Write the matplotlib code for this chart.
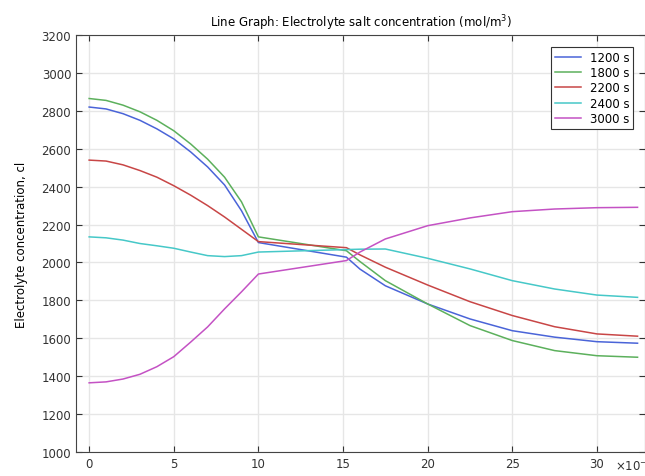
import matplotlib.pyplot as plt

# x positions (x 1e-5)
x_left = [0, 1, 2, 3, 4, 5, 6, 7, 8, 9, 10]
x_right = [10, 15.2, 16, 17.5, 20, 22.5, 25, 27.5, 30, 32.4]

c1200_left = [2820, 2810, 2785, 2750, 2705, 2652, 2583, 2504, 2409, 2273, 2105]
c1200_right = [2105, 2028, 1965, 1877, 1781, 1702, 1640, 1606, 1582, 1574]

c1800_left = [2865, 2855, 2830, 2795, 2750, 2695, 2625, 2545, 2450, 2320, 2135]
c1800_right = [2135, 2062, 2005, 1904, 1781, 1667, 1588, 1535, 1508, 1500]

c2200_left = [2540, 2535, 2515, 2485, 2450, 2405, 2355, 2300, 2240, 2175, 2110]
c2200_right = [2110, 2078, 2040, 1975, 1881, 1793, 1720, 1661, 1623, 1611]

c2400_left = [2135, 2130, 2118, 2100, 2088, 2075, 2055, 2036, 2031, 2036, 2055]
c2400_right = [2055, 2068, 2070, 2071, 2022, 1966, 1904, 1860, 1828, 1816]

c3000_left = [1365, 1370, 1385, 1410, 1450, 1503, 1580, 1660, 1755, 1845, 1939]
c3000_right = [1939, 2010, 2055, 2124, 2194, 2235, 2268, 2282, 2289, 2291]

labels = ['1200 s', '1800 s', '2200 s', '2400 s', '3000 s']
colors = ['#4a64d8', '#5cb05c', '#c84646', '#46c8c8', '#c452c4']

series = [
    (c1200_left, c1200_right),
    (c1800_left, c1800_right),
    (c2200_left, c2200_right),
    (c2400_left, c2400_right),
    (c3000_left, c3000_right),
]

fig = plt.figure(figsize=(6.45, 4.77), dpi=100)
ax = fig.add_axes([0.118, 0.0503, 0.882, 0.8742])

for (yl, yr), lab, col in zip(series, labels, colors):
    ax.plot(x_left + x_right[1:], yl + yr[1:], color=col, lw=1.1, label=lab)

ax.set_xlim(-0.77, 32.84)
ax.set_ylim(1000, 3200)
ax.set_xticks([0, 5, 10, 15, 20, 25, 30])
ax.set_yticks(range(1000, 3201, 200))
ax.grid(True, color='#e6e6e6', lw=1)
ax.set_axisbelow(True)
ax.tick_params(direction='in', top=True, right=True, labelsize=8.5, length=4, colors='#333333')
for s in ax.spines.values():
    s.set_color('#444444')

ax.set_title('Line Graph: Electrolyte salt concentration (mol/m$^3$)', fontsize=8.5, pad=6)
ax.set_ylabel('Electrolyte concentration, cl', fontsize=8.5, labelpad=10)
ax.set_xlabel('x', fontsize=8.5, labelpad=2)
# offset label next to the last tick, cut by the right edge like the original
ax.text(0.947, -0.012, '\u00d710$^{-5}$', transform=ax.transAxes, fontsize=8.5,
        ha='left', va='top', color='#333333')

leg = ax.legend(loc='upper right', bbox_to_anchor=(0.99, 0.985), fontsize=8.5,
                fancybox=False, edgecolor='#333333', framealpha=1,
                handlelength=2.2, borderpad=0.3, labelspacing=0.2)
leg.get_frame().set_linewidth(0.8)

fig.savefig('out.png', dpi=100)
